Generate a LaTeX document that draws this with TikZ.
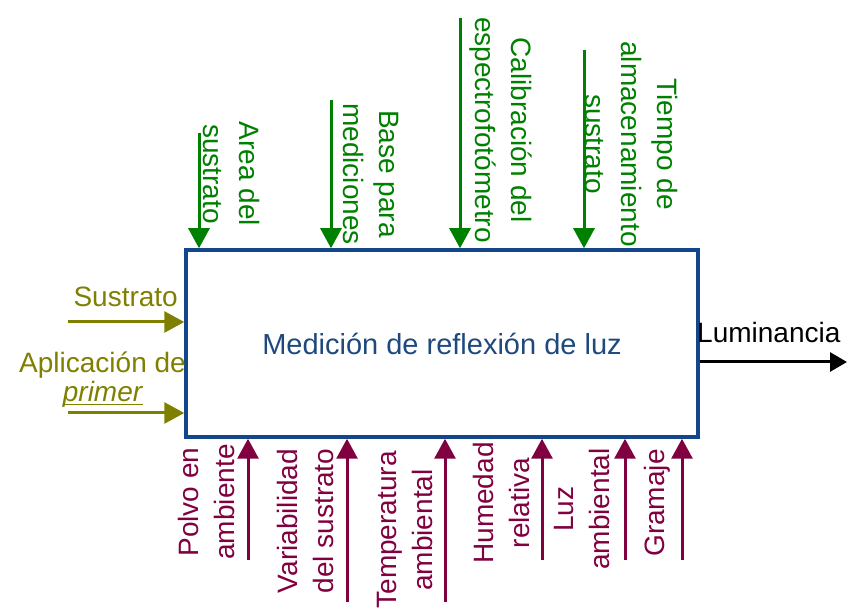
\documentclass[tikz,border=0pt]{standalone}
\usepackage{fontspec}
\setmainfont{Liberation Sans}
\usetikzlibrary{arrows.meta}
\definecolor{cgreen}{RGB}{0,128,0}
\definecolor{colive}{RGB}{128,128,0}
\definecolor{cmaroon}{RGB}{128,0,64}
\definecolor{cblue}{RGB}{20,70,140}
\definecolor{ctext}{RGB}{31,73,125}
\begin{document}
\begin{tikzpicture}[x=1pt,y=-1pt,
  font=\fontsize{28}{36}\selectfont,
  lbl/.style={inner sep=0pt, align=center},
  arr/.style={line width=3pt, -{Triangle[width=21pt,length=20pt]}}]
\useasboundingbox (0,0) rectangle (847,612);
% main box
\node[draw=cblue, line width=3.5pt, minimum width=512pt, minimum height=187pt,
      inner sep=0pt, text=ctext, font=\fontsize{29}{36}\selectfont] (box) at (442,343.5) {Medición de reflexión de luz};
% top (controls)
\coordinate (t1) at (199,133);
\coordinate (t2) at (331,100);
\coordinate (t3) at (460,18);
\coordinate (t4) at (584,50);
\foreach \c in {t1,t2,t3,t4}{\draw[arr, cgreen] (\c) -- (box.north -| \c);}
\node[lbl, text=cgreen, rotate=-90] (lt1) at (232,174) {Area del\\sustrato};
\node[lbl, text=cgreen, rotate=-90] (lt2) at (371,174) {Base para\\mediciones};
\node[lbl, text=cgreen, rotate=-90] (lt3) at (501,130) {Calibración del\\espectrofotómetro};
\node[lbl, text=cgreen, rotate=-90] (lt4) at (632,144) {Tiempo de\\almacenamiento\\sustrato};
% left (inputs)
\coordinate (s1) at (68,322);
\coordinate (s2) at (68,413);
\draw[arr, colive] (s1) -- (box.west |- s1);
\draw[arr, colive] (s2) -- (box.west |- s2);
\node[lbl, text=colive, anchor=base east] (ls1) at (178,307) {Sustrato};
\node[lbl, text=colive, anchor=base east] (ls2) at (186,373) {Aplicación de};
\node[lbl, text=colive, anchor=base] (ls3) at (103,402) {\textit{primer}};
\draw[colive, line width=1pt] ([yshift=-3pt]ls3.base west) -- ([yshift=-3pt]ls3.base east);
% bottom (mechanisms)
\coordinate (b1) at (248,560);
\coordinate (b2) at (347,602);
\coordinate (b3) at (445,602);
\coordinate (b4) at (542,560);
\coordinate (b5) at (625,560);
\coordinate (b6) at (682,560);
\foreach \c in {b1,b2,b3,b4,b5,b6}{\draw[arr, cmaroon] (\c) -- (box.south -| \c);}
\node[lbl, text=cmaroon, rotate=90] (lb1) at (206.5,502) {Polvo en\\ambiente};
\node[lbl, text=cmaroon, rotate=90] (lb2) at (305.5,521) {Variabilidad\\del sustrato};
\node[lbl, text=cmaroon, rotate=90] (lb3) at (405,530) {Temperatura\\ambiental};
\node[lbl, text=cmaroon, rotate=90] (lb4) at (501.5,503) {Humedad\\relativa};
\node[lbl, text=cmaroon, rotate=90] (lb5) at (582.5,509) {Luz\\ambiental};
\node[lbl, text=cmaroon, rotate=90] (lb6) at (657,503) {Gramaje};
% output
\coordinate (o1) at (847,362);
\draw[line width=3pt, -{Triangle[width=19pt,length=17pt]}] (box.east |- o1) -- (o1);
\node[lbl, anchor=base west] (lo1) at (697,343) {Luminancia};
\end{tikzpicture}
\end{document}
